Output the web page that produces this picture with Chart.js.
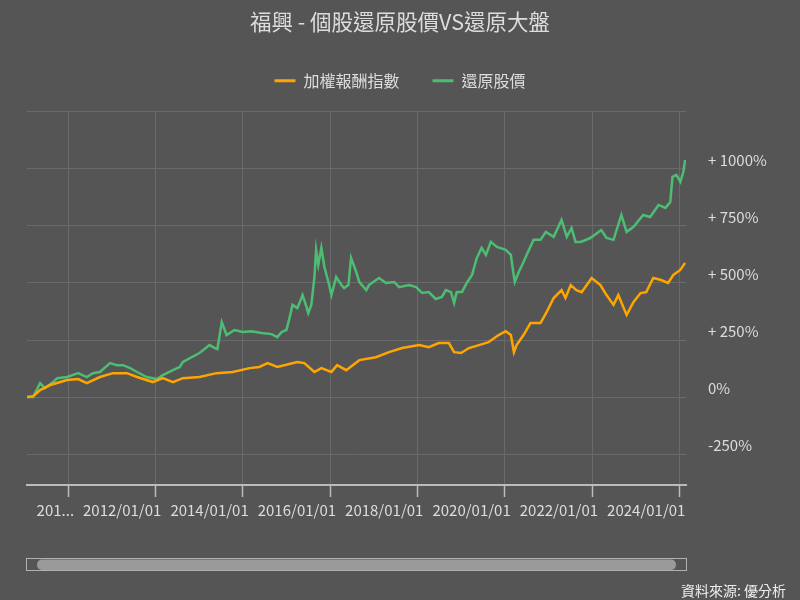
<!DOCTYPE html>
<html>
<head>
<meta charset="utf-8">
<script src="https://cdn.jsdelivr.net/npm/chart.js@4.4.1/dist/chart.umd.min.js"></script>
<style>
  html, body { margin: 0; padding: 0; background: #555555; }
  #chart { display: block; }
</style>
</head>
<body>
<canvas id="chart" width="800" height="600"></canvas>
<script>
// --- données (années décimales / rendement en %) ---
const indexDates = [2009.06, 2009.20, 2009.36, 2009.59, 2009.98, 2010.23, 2010.43, 2010.73, 2011.03, 2011.35,
  2011.58, 2011.94, 2012.17, 2012.40, 2012.63, 2013.01, 2013.40, 2013.77, 2014.16, 2014.38,
  2014.57, 2014.79, 2015.25, 2015.41, 2015.64, 2015.80, 2016.03, 2016.16, 2016.37, 2016.67,
  2017.05, 2017.35, 2017.65, 2018.04, 2018.26, 2018.49, 2018.72, 2018.84, 2019.00, 2019.18,
  2019.41, 2019.63, 2019.86, 2020.02, 2020.14, 2020.21, 2020.27, 2020.43, 2020.59, 2020.82,
  2020.96, 2021.12, 2021.30, 2021.39, 2021.51, 2021.64, 2021.76, 2021.99, 2022.19, 2022.33,
  2022.49, 2022.60, 2022.79, 2022.95, 2023.11, 2023.24, 2023.40, 2023.58, 2023.74, 2023.86,
  2024.02, 2024.13];
const indexReturns = [0, 4, 31, 53, 75, 79, 61, 88, 105, 105,
  88, 66, 83, 66, 83, 88, 105, 110, 127, 132,
  149, 132, 154, 149, 110, 127, 110, 140, 118, 162,
  175, 197, 215, 228, 219, 237, 237, 197, 193, 215,
  228, 241, 272, 289, 272, 197, 228, 272, 325, 325,
  373, 434, 469, 434, 491, 469, 460, 522, 491, 447,
  404, 447, 360, 417, 456, 460, 522, 513, 500, 535,
  557, 588];

const stockDates = [2009.06, 2009.20, 2009.36, 2009.47, 2009.66, 2009.75, 2009.98, 2010.23, 2010.43, 2010.57,
  2010.73, 2010.96, 2011.12, 2011.26, 2011.42, 2011.58, 2011.80, 2012.03, 2012.17, 2012.40,
  2012.56, 2012.63, 2012.79, 2013.01, 2013.24, 2013.36, 2013.42, 2013.52, 2013.63, 2013.81,
  2014.00, 2014.20, 2014.43, 2014.66, 2014.79, 2014.89, 2015.00, 2015.07, 2015.14, 2015.25,
  2015.37, 2015.46, 2015.50, 2015.57, 2015.64, 2015.68, 2015.73, 2015.80, 2015.87, 2015.98,
  2016.03, 2016.14, 2016.26, 2016.32, 2016.42, 2016.48, 2016.60, 2016.67, 2016.83, 2016.89,
  2017.12, 2017.28, 2017.47, 2017.58, 2017.81, 2017.97, 2018.11, 2018.26, 2018.42, 2018.56,
  2018.65, 2018.77, 2018.84, 2018.90, 2019.02, 2019.13, 2019.25, 2019.36, 2019.47, 2019.57,
  2019.68, 2019.82, 2020.02, 2020.14, 2020.18, 2020.23, 2020.32, 2020.43, 2020.50, 2020.66,
  2020.82, 2020.94, 2021.12, 2021.30, 2021.42, 2021.53, 2021.62, 2021.74, 2021.96, 2022.21,
  2022.33, 2022.49, 2022.67, 2022.79, 2022.95, 2023.17, 2023.33, 2023.52, 2023.68, 2023.79,
  2023.84, 2023.93, 2024.02, 2024.09, 2024.13];
const stockReturns = [0, 0, 61, 39, 66, 83, 88, 105, 88, 105,
  110, 149, 140, 140, 127, 110, 88, 79, 96, 118,
  132, 154, 171, 193, 228, 215, 211, 329, 272, 294,
  285, 289, 281, 276, 263, 285, 294, 346, 404, 390,
  447, 395, 368, 404, 522, 645, 579, 654, 570, 491,
  447, 526, 491, 478, 491, 610, 548, 504, 469, 491,
  522, 500, 504, 482, 491, 482, 456, 460, 430, 439,
  469, 460, 412, 460, 460, 500, 535, 610, 654, 623,
  680, 658, 645, 623, 566, 504, 548, 592, 623, 689,
  689, 724, 702, 776, 702, 741, 680, 680, 697, 732,
  697, 689, 798, 724, 746, 798, 789, 842, 829, 855,
  965, 974, 943, 987, 1039];

const xTickYears = [2010, 2012, 2014, 2016, 2018, 2020, 2022, 2024];
const yTickValues = [-250, 0, 250, 500, 750, 1000, 1250];

const seriesNames = ['加權報酬指數', '還原股價'];
const seriesColors = ['#FFA500', '#4DBD74'];

const FONT = "'Noto Sans CJK TC', 'Noto Sans', sans-serif";
const TEXT = '#dddddd';
const GRID = '#6a6a6a';

// barre de défilement + source (dessin en bas du canvas)
const footerPlugin = {
  id: 'footer',
  afterDraw(chart) {
    const ctx = chart.ctx;
    const left = chart.chartArea.left;
    const right = chart.chartArea.right;
    ctx.save();
    ctx.strokeStyle = '#b0b0b0';
    ctx.lineWidth = 1;
    ctx.strokeRect(left - 0.5, 558.5, right - left + 1, 12);
    ctx.fillStyle = '#9a9a9a';
    ctx.beginPath();
    ctx.roundRect(left + 10, 559.5, right - left - 20, 10.5, 5);
    ctx.fill();
    ctx.fillStyle = '#eeeeee';
    ctx.font = '14px ' + FONT;
    ctx.textAlign = 'right';
    ctx.textBaseline = 'middle';
    ctx.fillText('資料來源: 優分析', 786, 591);
    ctx.restore();
  }
};

new Chart(document.getElementById('chart'), {
  type: 'line',
  data: {
    datasets: [
      {
        label: seriesNames[0],
        data: indexDates.map((d, i) => ({ x: d, y: indexReturns[i] })),
        borderColor: seriesColors[0],
        backgroundColor: seriesColors[0],
        borderWidth: 2.5,
        pointRadius: 0,
        tension: 0,
        yAxisID: 'y'
      },
      {
        label: seriesNames[1],
        data: stockDates.map((d, i) => ({ x: d, y: stockReturns[i] })),
        borderColor: seriesColors[1],
        backgroundColor: seriesColors[1],
        borderWidth: 2.5,
        pointRadius: 0,
        tension: 0,
        yAxisID: 'y'
      }
    ]
  },
  options: {
    responsive: false,
    animation: false,
    events: [],
    layout: { padding: 0 },
    plugins: {
      title: {
        display: true,
        text: '福興 - 個股還原股價VS還原大盤',
        color: TEXT,
        font: { family: FONT, size: 21.5, weight: 'normal', lineHeight: 1.2 },
        padding: { top: 9, bottom: 5 }
      },
      subtitle: {
        display: true,
        text: ' ',
        weight: 500,
        font: { size: 13, lineHeight: 1 },
        padding: 0
      },
      legend: {
        display: true,
        labels: {
          color: TEXT,
          font: { family: FONT, size: 16 },
          boxWidth: 21,
          boxHeight: 3,
          padding: 33,
          generateLabels: (chart) => chart.data.datasets.map((ds, i) => ({
            text: ds.label,
            fillStyle: ds.borderColor,
            strokeStyle: ds.borderColor,
            lineWidth: 0,
            fontColor: TEXT,
            datasetIndex: i
          }))
        }
      },
      tooltip: { enabled: false }
    },
    scales: {
      x: {
        type: 'linear',
        position: 'bottom',
        min: 2009.06,
        max: 2024.15,
        afterBuildTicks: (scale) => { scale.ticks = xTickYears.map(v => ({ value: v })); },
        afterFit: (scale) => { scale.height = 115; },
        grid: {
          color: GRID,
          drawTicks: true,
          tickLength: 12,
          tickColor: '#bbbbbb',
          tickWidth: 1.5
        },
        border: { display: true, color: '#bbbbbb', width: 2 },
        ticks: {
          color: TEXT,
          font: { family: FONT, size: 15 },
          padding: 4,
          maxRotation: 0,
          autoSkip: false,
          align: 'end',
          labelOffset: 6,
          callback: (v) => v === 2010 ? '201...' : v + '/01/01'
        }
      },
      yLeft: {
        type: 'linear',
        position: 'left',
        display: true,
        grid: { display: false },
        border: { display: false },
        ticks: { display: false },
        afterFit: (scale) => { scale.width = 27; }
      },
      y: {
        type: 'linear',
        position: 'right',
        min: -385,
        max: 1250,
        afterBuildTicks: (scale) => { scale.ticks = yTickValues.map(v => ({ value: v })); },
        afterFit: (scale) => { scale.width = 114; },
        grid: { color: GRID, drawTicks: false },
        border: { display: false },
        ticks: {
          color: TEXT,
          font: { family: FONT, size: 15 },
          padding: 22,
          labelOffset: -9,
          callback: (v) => v === 1250 ? '' : (v > 0 ? '+ ' + v + '%' : v + '%')
        }
      }
    }
  },
  plugins: [footerPlugin]
});
</script>
</body>
</html>
